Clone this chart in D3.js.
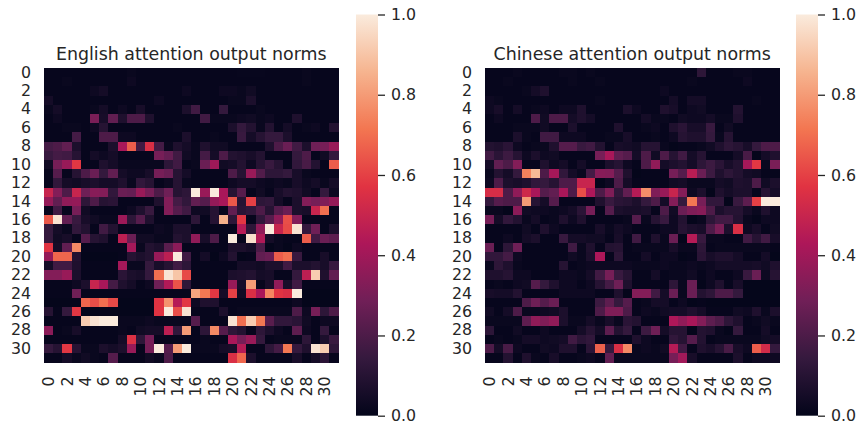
<!DOCTYPE html>
<html>
<head>
<meta charset="utf-8">
<script src="https://cdn.jsdelivr.net/npm/d3@7"></script>
<style>
	body { margin: 0; background: #fff; }
	text { font-family: "DejaVu Sans", sans-serif; fill: #262626; }
	.axis path { display: none; }
	.axis text { font-size: 15.8px; }
	.cbar line { stroke: #262626; stroke-width: 1.3; }
	.title { font-size: 17.4px; text-anchor: middle; }
</style>
</head>
<body>
<div id="chart"></div>
<script>
var indices = d3.range(32);
var tickLabels = indices.filter(function(d) { return d % 2 === 0; });
var colorTicks = [0, 0.2, 0.4, 0.6, 0.8, 1];

// rocket colormap
var rocketStops = ['#03051a', '#35193e', '#701f57', '#ad1759', '#e13342', '#f37651', '#f6b48f', '#faebdd'];

var englishNorms = [
	[.01,.01,.01,.01,.01,.01,.01,.01,.01,.02,.01,.01,.01,.01,.01,.01,.01,.01,.01,.01,.01,.015,.015,.015,.01,.01,.01,.01,.02,.01,.01,.01],
	[.01,.01,.02,.01,.01,.01,.01,.01,.01,.03,.01,.01,.01,.01,.01,.01,.01,.01,.01,.01,.01,.01,.01,.01,.01,.01,.01,.01,.02,.01,.01,.01],
	[.01,.01,.01,.01,.01,.03,.05,.01,.01,.01,.01,.01,.01,.01,.01,.03,.01,.01,.01,.03,.03,.02,.04,.01,.01,.01,.01,.01,.01,.01,.01,.01],
	[.05,.01,.01,.01,.01,.01,.01,.01,.01,.01,.01,.01,.03,.01,.01,.01,.01,.01,.01,.01,.02,.02,.07,.01,.01,.01,.01,.01,.01,.01,.01,.01],
	[.02,.05,.01,.01,.01,.02,.05,.01,.03,.01,.06,.01,.01,.01,.01,.07,.17,.01,.01,.14,.01,.01,.01,.02,.01,.01,.01,.01,.01,.01,.01,.01],
	[.01,.03,.01,.01,.01,.31,.06,.25,.08,.2,.2,.08,.01,.01,.01,.01,.01,.17,.02,.02,.02,.03,.04,.02,.03,.01,.01,.08,.01,.01,.01,.01],
	[.01,.01,.02,.02,.01,.03,.1,.01,.01,.01,.01,.01,.01,.01,.02,.01,.01,.01,.01,.01,.07,.14,.09,.02,.09,.01,.05,.01,.02,.03,.01,.09],
	[.01,.01,.01,.18,.01,.01,.2,.2,.03,.03,.01,.01,.01,.01,.01,.07,.01,.01,.02,.01,.01,.15,.05,.1,.14,.14,.07,.01,.01,.01,.01,.01],
	[.18,.2,.25,.07,.01,.01,.01,.07,.42,.66,.17,.55,.18,.02,.08,.05,.02,.08,.04,.04,.01,.01,.01,.01,.08,.2,.27,.17,.07,.28,.3,.38],
	[.15,.18,.17,.1,.01,.05,.03,.05,.01,.01,.01,.01,.3,.26,.17,.04,.02,.18,.05,.2,.09,.08,.06,.09,.01,.01,.01,.14,.2,.01,.04,.14],
	[.04,.3,.38,.58,.01,.01,.08,.05,.02,.02,.02,.02,.02,.12,.17,.01,.02,.27,.39,.04,.05,.09,.03,.1,.15,.1,.01,.13,.19,.09,.01,.66],
	[.01,.22,.01,.1,.2,.27,.14,.25,.05,.03,.03,.06,.3,.27,.1,.05,.01,.01,.01,.01,.2,.1,.38,.21,.12,.12,.14,.06,.02,.01,.01,.01],
	[.01,.13,.05,.04,.06,.07,.05,.05,.08,.02,.13,.1,.01,.03,.1,.02,.01,.01,.01,.01,.03,.05,.05,.03,.02,.03,.02,.06,.03,.05,.02,.05],
	[.5,.33,.2,.5,.28,.34,.33,.13,.27,.26,.38,.3,.2,.28,.1,.12,1,.38,1,.42,.1,.22,.01,.04,.01,.06,.09,.08,.04,.01,.14,.03],
	[.37,.25,.36,.37,.12,.2,.1,.11,.01,.01,.01,.01,.08,.33,.18,.13,.25,.22,.37,.42,.65,.1,.6,.12,.13,.05,.01,.07,.33,.3,.32,.37],
	[.01,.17,.01,.3,.04,.01,.01,.01,.01,.03,.08,.15,.01,.33,.22,.17,.03,.04,.1,.01,.25,.11,.13,.2,.1,.22,.27,.07,.06,.5,.7,.01],
	[.65,.98,.25,.15,.06,.04,.02,.02,.39,.12,.22,.08,.01,.01,.01,.01,.12,.01,.1,.85,.12,.58,.01,.13,.22,.36,.63,.33,.01,.01,.01,.01],
	[.14,.05,.02,.13,.09,.01,.17,.09,.01,.01,.01,.01,.03,.02,.07,.07,.01,.01,.01,.01,.01,.45,.12,.36,1,.5,.62,.98,.14,.28,.01,.07],
	[.14,.04,.06,.01,.22,.1,.08,.01,.47,.27,.04,.04,.02,.02,.09,.07,.36,.06,.2,.01,1,.01,.97,.44,.05,.02,.01,.01,.66,.17,.27,.24],
	[.57,.05,.25,.76,.01,.01,.01,.01,.01,.41,.02,.09,.07,.23,.35,.01,.01,.01,.01,.01,.07,.07,.05,.2,.005,.02,.005,.03,.01,.01,.01,.01],
	[.37,.68,.68,.09,.005,.005,.005,.005,.01,.1,.07,.09,.38,.47,1,.17,.01,.05,.005,.03,.09,.005,.01,.25,.27,.66,.7,.15,.01,.01,.06,.01],
	[.05,.17,.17,.08,.01,.01,.01,.01,.41,.02,.02,.14,.06,.1,.17,.12,.01,.01,.01,.01,.01,.05,.05,.04,.07,.07,.17,.07,.07,.09,.06,.15],
	[.33,.33,.38,.07,.01,.01,.01,.01,.11,.07,.06,.14,.7,.98,.9,.62,.01,.01,.01,.01,.07,.08,.09,.05,.06,.01,.01,.14,.47,.92,.08,.25],
	[.01,.01,.01,.03,.07,.5,.42,.18,.08,.05,.01,.03,.28,.44,.64,.12,.01,.01,.01,.01,.38,.06,.8,.01,.06,.36,.06,.17,.01,.01,.01,.01],
	[.01,.01,.01,.28,.01,.01,.01,.01,.01,.01,.01,.01,.01,.01,.01,.01,.82,.72,.58,.05,.6,.04,.55,.42,.75,.57,.55,1,.005,.005,.005,.005],
	[.005,.005,.005,.005,.68,.63,.7,.62,.005,.005,.005,.005,.57,.78,.45,.58,.03,.08,.08,.01,.01,.01,.01,.01,.01,.01,.01,.03,.005,.005,.005,.005],
	[.1,.01,.14,.58,.005,.005,.005,.005,.005,.005,.005,.005,.57,1,.63,.98,.01,.01,.01,.07,.01,.02,.02,.02,.02,.02,.02,.2,.03,.3,.12,.2],
	[.01,.01,.01,.01,.92,.98,1,1,.02,.02,.02,.03,.02,.02,.02,.02,.22,.01,.01,.01,.98,.7,.92,.72,.23,.13,.13,.11,.04,.01,.03,.03],
	[.35,.01,.02,.06,.01,.01,.01,.01,.02,.01,.04,.05,.05,.47,.13,.8,.01,.12,.76,.22,.12,.09,.01,.12,.07,.03,.01,.24,.03,.01,.14,.01],
	[.01,.01,.01,.01,.01,.01,.01,.01,.05,.56,.12,.3,.01,.01,.01,.01,.01,.02,.01,.01,.42,.3,.38,.14,.01,.02,.02,.02,.12,.01,.07,.15],
	[.14,.1,.58,.1,.02,.02,.07,.05,.07,.38,.01,.3,1,.22,.8,1,.02,.02,.02,.05,.06,.45,.01,.01,.12,.18,.72,.14,.08,.98,.92,.12],
	[.01,.01,.05,.02,.04,.02,.01,.22,.01,.01,.01,.04,.02,.2,.01,.01,.01,.01,.01,.01,.55,.68,.07,.01,.01,.01,.01,.06,.01,.05,.11,.01]
];

var chineseNorms = [
	[.01,.01,.01,.02,.01,.01,.01,.01,.02,.02,.01,.02,.01,.01,.01,.01,.01,.01,.01,.01,.01,.01,.01,.12,.01,.01,.01,.02,.02,.01,.01,.01],
	[.01,.01,.02,.01,.01,.01,.01,.01,.01,.02,.01,.01,.02,.01,.01,.01,.01,.01,.01,.01,.01,.01,.02,.01,.01,.01,.01,.01,.03,.01,.01,.01],
	[.01,.01,.01,.01,.02,.05,.08,.01,.01,.01,.01,.01,.01,.01,.01,.01,.01,.01,.01,.03,.01,.01,.01,.01,.01,.01,.01,.01,.01,.01,.01,.01],
	[.03,.02,.01,.01,.01,.01,.01,.01,.01,.01,.01,.01,.02,.01,.01,.01,.01,.01,.01,.01,.05,.01,.05,.05,.01,.01,.01,.01,.01,.02,.01,.01],
	[.03,.06,.01,.05,.01,.02,.03,.01,.03,.03,.08,.01,.01,.01,.01,.07,.03,.01,.01,.08,.06,.01,.03,.04,.01,.01,.01,.09,.01,.01,.01,.01],
	[.01,.03,.01,.01,.01,.2,.04,.2,.2,.05,.08,.05,.01,.01,.01,.01,.01,.05,.02,.02,.01,.04,.03,.03,.05,.02,.02,.08,.01,.01,.01,.01],
	[.01,.01,.01,.02,.02,.02,.04,.01,.01,.07,.01,.01,.01,.01,.08,.01,.01,.02,.03,.01,.08,.11,.06,.06,.15,.01,.04,.01,.01,.01,.01,.01],
	[.01,.01,.01,.07,.02,.01,.17,.17,.03,.03,.03,.01,.01,.02,.02,.06,.01,.01,.02,.01,.03,.1,.08,.08,.14,.02,.1,.01,.01,.01,.01,.01],
	[.09,.08,.11,.03,.01,.02,.02,.08,.22,.22,.15,.17,.09,.01,.06,.05,.04,.1,.1,.02,.005,.01,.01,.02,.04,.08,.12,.1,.06,.14,.2,.2],
	[.17,.11,.16,.1,.03,.07,.03,.04,.01,.01,.01,.01,.3,.42,.25,.22,.05,.2,.04,.2,.1,.17,.05,.1,.01,.01,.01,.05,.19,.005,.05,.08],
	[.05,.25,.2,.33,.01,.01,.08,.03,.05,.01,.05,.01,.01,.07,.1,.03,.01,.2,.36,.05,.07,.09,.05,.12,.16,.11,.06,.09,.41,.58,.02,.31],
	[.02,.09,.05,.14,.74,.87,.2,.41,.13,.05,.02,.18,.34,.33,.22,.08,.005,.01,.01,.01,.3,.22,.46,.27,.16,.08,.12,.09,.05,.04,.01,.01],
	[.03,.2,.07,.06,.08,.13,.14,.1,.2,.2,.5,.5,.005,.03,.2,.05,.01,.01,.01,.01,.04,.05,.02,.02,.02,.05,.04,.08,.07,.2,.04,.07],
	[.54,.54,.2,.36,.52,.42,.22,.25,.42,.2,.63,.43,.2,.32,.13,.25,.45,.77,.32,.38,.5,.33,.03,.07,.005,.08,.05,.07,.07,.01,.1,.05],
	[.14,.22,.2,.2,.8,.1,.05,.22,.01,.01,.01,.01,.08,.15,.11,.1,.07,.14,.2,.05,.33,.14,.72,.3,.13,.13,.005,.15,.24,.6,1,1],
	[.02,.02,.005,.35,.04,.03,.03,.02,.03,.05,.11,.3,.01,.22,.07,.06,.06,.07,.01,.2,.04,.27,.32,.34,.2,.07,.1,.1,.05,.02,.08,.03],
	[.3,.05,.13,.09,.02,.05,.01,.02,.08,.03,.08,.01,.01,.01,.01,.02,.22,.02,.1,.15,.03,.09,.005,.02,.12,.17,.17,.09,.02,.005,.03,.03],
	[.01,.01,.01,.01,.04,.01,.08,.03,.01,.01,.01,.01,.06,.02,.05,.03,.01,.01,.01,.03,.03,.1,.07,.06,.2,.31,.07,.55,.03,.06,.01,.04],
	[.01,.01,.03,.01,.05,.07,.01,.01,.15,.05,.05,.04,.04,.01,.06,.01,.17,.01,.08,.02,.27,.005,.45,.15,.02,.02,.01,.01,.17,.1,.17,.06],
	[.27,.01,.12,.28,.01,.01,.01,.01,.01,.17,.02,.08,.01,.09,.1,.01,.02,.02,.02,.02,.06,.02,.02,.12,.01,.02,.02,.02,.02,.02,.02,.01],
	[.13,.13,.18,.03,.01,.01,.01,.01,.01,.04,.02,.07,.43,.01,.12,.01,.01,.05,.01,.03,.03,.005,.01,.11,.06,.08,.08,.05,.01,.01,.05,.005],
	[.02,.12,.08,.02,.01,.01,.01,.01,.1,.01,.02,.03,.03,.03,.03,.03,.02,.02,.02,.03,.02,.02,.03,.02,.03,.05,.05,.05,.05,.06,.04,.08],
	[.08,.08,.1,.03,.03,.01,.01,.01,.03,.03,.02,.05,.17,.3,.15,.1,.01,.01,.05,.01,.02,.02,.04,.01,.03,.01,.01,.03,.15,.27,.03,.1],
	[.01,.02,.01,.03,.04,.22,.14,.08,.03,.03,.01,.03,.1,.18,.28,.08,.01,.01,.01,.01,.12,.02,.27,.005,.03,.08,.01,.06,.005,.005,.005,.005],
	[.06,.05,.05,.09,.01,.01,.01,.01,.03,.03,.03,.03,.01,.01,.08,.005,.33,.33,.17,.05,.27,.02,.27,.09,.12,.2,.2,.14,.005,.005,.005,.005],
	[.01,.01,.01,.01,.2,.28,.22,.27,.01,.01,.01,.01,.16,.24,.14,.22,.01,.02,.05,.05,.01,.03,.005,.01,.005,.005,.005,.005,.005,.005,.005,.005],
	[.04,.01,.05,.2,.02,.02,.03,.04,.07,.01,.01,.01,.2,.32,.32,.2,.01,.03,.02,.04,.05,.05,.08,.05,.01,.01,.01,.04,.03,.08,.02,.07],
	[.02,.02,.02,.02,.24,.36,.32,.36,.07,.02,.02,.05,.02,.06,.02,.11,.09,.01,.01,.01,.43,.36,.42,.33,.24,.2,.12,.08,.01,.02,.04,.02],
	[.12,.01,.01,.04,.01,.01,.03,.01,.01,.01,.05,.1,.05,.24,.09,.14,.01,.16,.28,.05,.1,.1,.005,.09,.08,.02,.005,.14,.01,.01,.05,.01],
	[.01,.02,.01,.02,.05,.05,.03,.04,.05,.17,.11,.13,.01,.01,.01,.01,.08,.03,.01,.01,.13,.1,.22,.09,.01,.02,.02,.02,.02,.02,.04,.05],
	[.2,.05,.19,.03,.01,.01,.04,.03,.08,.08,.01,.11,.67,.14,.55,.76,.02,.03,.02,.04,.45,.17,.01,.08,.06,.1,.19,.06,.03,.66,.53,.14],
	[.01,.01,.09,.01,.08,.02,.01,.06,.01,.01,.02,.03,.01,.25,.02,.02,.02,.02,.02,.02,.3,.4,.06,.01,.01,.01,.01,.07,.01,.03,.03,.03]
];

var width = 859;
var height = 421;
var panelTop = 68;
var panelSize = 294.5;
var barTop = 14.5;
var barBottom = 415.7;
var barWidth = 22;

var color = d3.scaleLinear()
	.domain(rocketStops.map(function(d, i) { return i / (rocketStops.length - 1); }))
	.range(rocketStops);

var svg = d3.select('#chart').append('svg')
	.attr('width', width)
	.attr('height', height)
	.style('display', 'block');

function drawPanel(id, title, data, left, barLeft) {
	var x = d3.scaleBand().domain(indices).range([left, left + panelSize]);
	var y = d3.scaleBand().domain(indices).range([panelTop, panelTop + panelSize]);
	var g = svg.append('g');

	data.forEach(function(row, r) {
		g.selectAll(null)
			.data(row)
			.enter().append('rect')
			.attr('x', function(d, c) { return x(c); })
			.attr('y', y(r))
			.attr('width', x.bandwidth())
			.attr('height', y.bandwidth())
			.attr('shape-rendering', 'crispEdges')
			.attr('fill', function(d) { return color(d); });
	});

	// tick labels only, seaborn heatmaps have no tick marks here
	var yAxis = g.append('g')
		.attr('class', 'axis')
		.attr('transform', 'translate(' + left + ',0)')
		.call(d3.axisLeft(y).tickValues(tickLabels).tickSize(0).tickPadding(13));
	yAxis.selectAll('line').remove();

	var xAxis = g.append('g')
		.attr('class', 'axis')
		.attr('transform', 'translate(0,' + (panelTop + panelSize) + ')')
		.call(d3.axisBottom(x).tickValues(tickLabels).tickSize(0));
	xAxis.selectAll('line').remove();
	xAxis.selectAll('text')
		.attr('transform', 'rotate(-90)')
		.attr('x', -14)
		.attr('y', 0)
		.attr('dy', '0.35em')
		.style('text-anchor', 'end');

	g.append('text')
		.attr('class', 'title')
		.attr('x', left + panelSize / 2)
		.attr('y', 60)
		.text(title);

	// colorbar
	var gradient = svg.append('linearGradient')
		.attr('id', id)
		.attr('x1', 0).attr('y1', 1)
		.attr('x2', 0).attr('y2', 0);
	gradient.selectAll('stop')
		.data(rocketStops)
		.enter().append('stop')
		.attr('offset', function(d, i) { return i / (rocketStops.length - 1); })
		.attr('stop-color', function(d) { return d; });

	var barScale = d3.scaleLinear().domain([0, 1]).range([barBottom, barTop]);

	g.append('rect')
		.attr('x', barLeft)
		.attr('y', barTop)
		.attr('width', barWidth)
		.attr('height', barBottom - barTop)
		.attr('fill', 'url(#' + id + ')');

	g.append('g')
		.attr('class', 'axis cbar')
		.attr('transform', 'translate(' + (barLeft + barWidth) + ',0)')
		.call(d3.axisRight(barScale).tickValues(colorTicks).tickSize(7).tickPadding(6).tickFormat(d3.format('.1f')));
}

drawPanel('bar-en', 'English attention output norms', englishNorms, 44, 356);
drawPanel('bar-zh', 'Chinese attention output norms', chineseNorms, 485, 796);
</script>
</body>
</html>
